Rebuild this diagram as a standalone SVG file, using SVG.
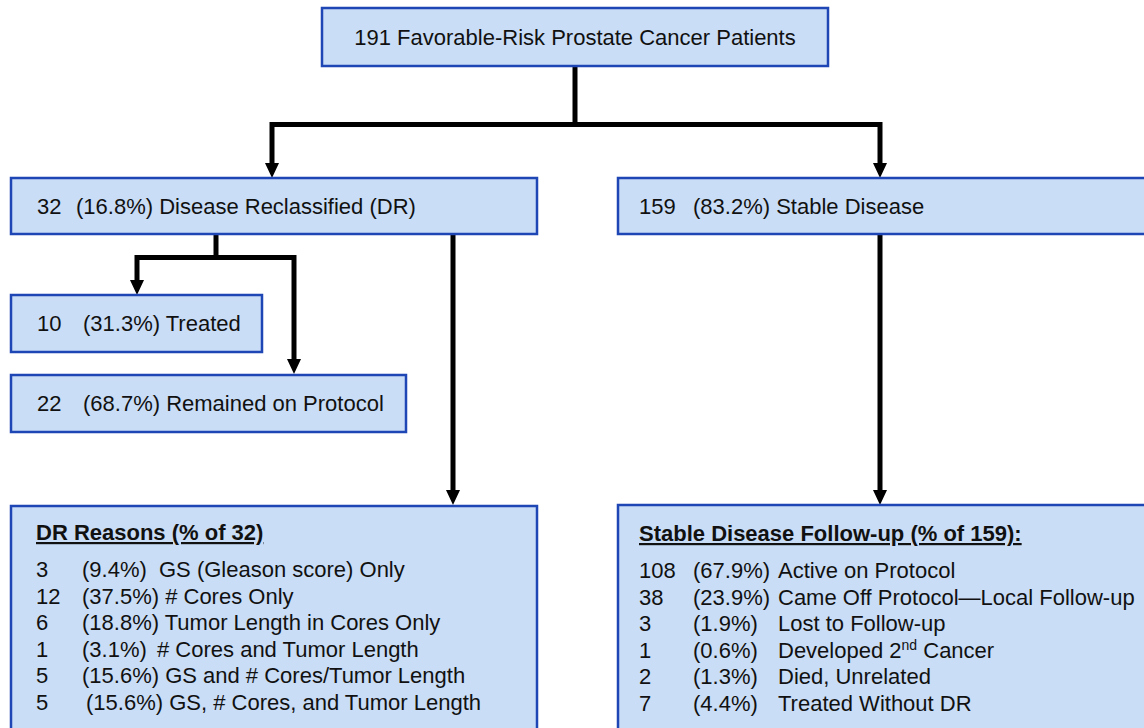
<svg xmlns="http://www.w3.org/2000/svg" width="1144" height="728" viewBox="0 0 1144 728">
<style>
.box{fill:#c9ddf6;stroke:#1e46b4;stroke-width:2.5}
.t{font-family:"Liberation Sans",Arial,sans-serif;font-size:22px;fill:#111}
.h{font-family:"Liberation Sans",Arial,sans-serif;font-size:22px;font-weight:bold;fill:#111;text-decoration:underline}
.c{fill:none;stroke:#000;stroke-width:5}
</style>
<defs>
<marker id="ah" markerUnits="userSpaceOnUse" markerWidth="15" markerHeight="14" viewBox="0 0 15 14" refX="5" refY="7" orient="auto">
<path d="M0,0 L15,7 L0,14 Z" fill="#000"/>
</marker>
</defs>
<rect width="1144" height="728" fill="#fff"/>
<g id="connectors">
<path class="c" d="M575,66 V124.5"/>
<path class="c" d="M272,124.5 H880"/>
<path class="c" d="M272,122 V168" marker-end="url(#ah)"/>
<path class="c" d="M880,122 V168" marker-end="url(#ah)"/>
<path class="c" d="M216,234 V257.5"/>
<path class="c" d="M137,257.5 H294"/>
<path class="c" d="M137,255 V285" marker-end="url(#ah)"/>
<path class="c" d="M294,255 V364" marker-end="url(#ah)"/>
<path class="c" d="M453,234 V495" marker-end="url(#ah)"/>
<path class="c" d="M880,234 V495" marker-end="url(#ah)"/>
</g>
<g id="top">
<rect class="box" x="322" y="8" width="506" height="58"/>
<text class="t" x="575" y="45" text-anchor="middle">191 Favorable-Risk Prostate Cancer Patients</text>
</g>
<g id="dr">
<rect class="box" x="11" y="178" width="526" height="56"/>
<text class="t" y="214"><tspan x="37">32</tspan><tspan x="76">(16.8%) Disease Reclassified (DR)</tspan></text>
</g>
<g id="stable">
<rect class="box" x="618" y="178" width="540" height="56"/>
<text class="t" y="214"><tspan x="639">159</tspan><tspan x="693">(83.2%) Stable Disease</tspan></text>
</g>
<g id="treated">
<rect class="box" x="11" y="295" width="251" height="57"/>
<text class="t" y="331"><tspan x="37">10</tspan><tspan x="83">(31.3%) Treated</tspan></text>
</g>
<g id="remained">
<rect class="box" x="11" y="375" width="395" height="57"/>
<text class="t" y="411"><tspan x="37">22</tspan><tspan x="83">(68.7%) Remained on Protocol</tspan></text>
</g>
<g id="dr-reasons">
<rect class="box" x="11" y="506" width="526" height="240"/>
<text class="h" x="36" y="540">DR Reasons (% of 32)</text>
<text class="t" y="577"><tspan x="36">3</tspan><tspan x="82">(9.4%)</tspan><tspan x="159">GS (Gleason score) Only</tspan></text>
<text class="t" y="603.5"><tspan x="36">12</tspan><tspan x="82">(37.5%) # Cores Only</tspan></text>
<text class="t" y="630"><tspan x="36">6</tspan><tspan x="82">(18.8%) Tumor Length in Cores Only</tspan></text>
<text class="t" y="656.5"><tspan x="36">1</tspan><tspan x="82">(3.1%)</tspan><tspan x="157"># Cores and Tumor Length</tspan></text>
<text class="t" y="683"><tspan x="36">5</tspan><tspan x="82">(15.6%) GS and # Cores/Tumor Length</tspan></text>
<text class="t" y="709.5"><tspan x="36">5</tspan><tspan x="86">(15.6%) GS, # Cores, and Tumor Length</tspan></text>
</g>
<g id="stable-followup">
<rect class="box" x="618" y="505" width="540" height="240"/>
<text class="h" x="639" y="541">Stable Disease Follow-up (% of 159):</text>
<text class="t" y="578"><tspan x="639">108</tspan><tspan x="693">(67.9%)</tspan><tspan x="778">Active on Protocol</tspan></text>
<text class="t" y="604.5"><tspan x="639">38</tspan><tspan x="693">(23.9%)</tspan><tspan x="778">Came Off Protocol—Local Follow-up</tspan></text>
<text class="t" y="631"><tspan x="639">3</tspan><tspan x="693">(1.9%)</tspan><tspan x="778">Lost to Follow-up</tspan></text>
<text class="t" y="657.5"><tspan x="639">1</tspan><tspan x="693">(0.6%)</tspan><tspan x="778">Developed 2</tspan><tspan font-size="14" dy="-8">nd</tspan><tspan dy="8"> Cancer</tspan></text>
<text class="t" y="684"><tspan x="639">2</tspan><tspan x="693">(1.3%)</tspan><tspan x="778">Died, Unrelated</tspan></text>
<text class="t" y="710.5"><tspan x="639">7</tspan><tspan x="693">(4.4%)</tspan><tspan x="778">Treated Without DR</tspan></text>
</g>
</svg>
